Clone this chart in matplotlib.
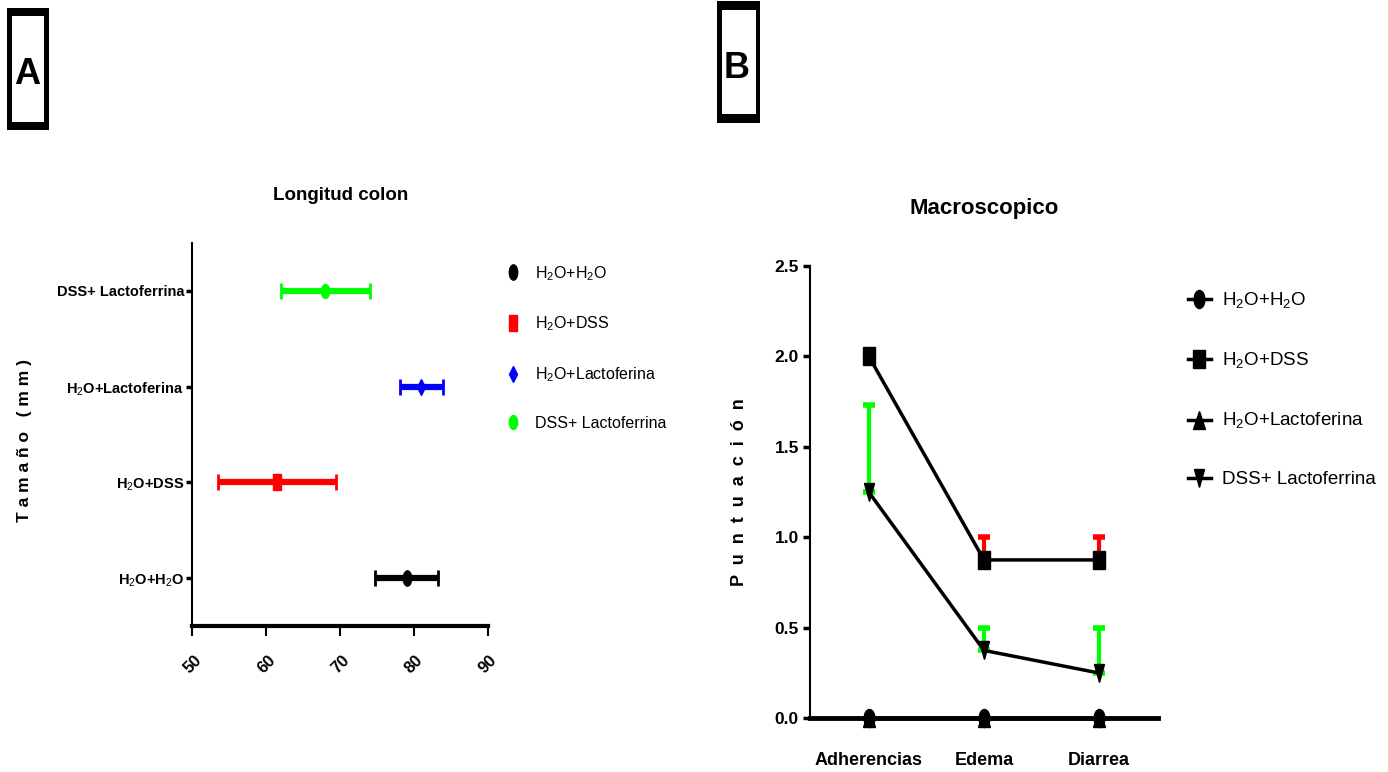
import numpy as np
import matplotlib
matplotlib.use("Agg")
import matplotlib.pyplot as plt
from matplotlib.markers import MarkerStyle
from matplotlib.transforms import Affine2D
from matplotlib.patches import Rectangle
from matplotlib.lines import Line2D

plt.rcParams['font.family'] = ['Liberation Sans', 'DejaVu Sans']
plt.rcParams['mathtext.fontset'] = 'custom'
plt.rcParams['mathtext.rm'] = 'Liberation Sans'
plt.rcParams['mathtext.bf'] = 'Liberation Sans:bold'

# ---- data, panel A (colon length, mm) ----
groups_a = ['H2O+H2O', 'H2O+DSS', 'H2O+Lactoferina', 'DSS+ Lactoferrina']
ticklabels_a = [r'H$_2$O+H$_2$O', r'H$_2$O+DSS', r'H$_2$O+Lactoferina', 'DSS+ Lactoferrina']
legend_a = [r'H$_2$O+H$_2$O', r'H$_2$O+DSS', r'H$_2$O+Lactoferina', 'DSS+ Lactoferrina']
mean_a = [79.0, 61.4, 81.0, 68.0]
err_a = [4.3, 8.0, 2.9, 6.0]
colors_a = ['black', '#ff0000', '#0000ff', '#00ff00']
xticks_a = [50, 60, 70, 80, 90]

# ---- data, panel B (macroscopic score) ----
cats_b = ['Adherencias', 'Edema', 'Diarrea']
series_b = ['H2O+H2O', 'H2O+DSS', 'H2O+Lactoferina', 'DSS+ Lactoferrina']
legend_b = [r'H$_2$O+H$_2$O', r'H$_2$O+DSS', r'H$_2$O+Lactoferina', 'DSS+ Lactoferrina']
vals_b = [[0, 0, 0],
          [2.0, 0.875, 0.875],
          [0, 0, 0],
          [1.25, 0.375, 0.25]]
err_b = [[0, 0, 0],
         [0, 0.125, 0.125],
         [0, 0, 0],
         [0.48, 0.125, 0.25]]
errcol_b = ['black', '#ff0000', 'black', '#00ff00']
yticks_b = [0.0, 0.5, 1.0, 1.5, 2.0, 2.5]

W, H = 1388, 772
fig = plt.figure(figsize=(W / 100, H / 100), dpi=100)


def fx(px):
    return px / W


def fy(py):
    return 1 - py / H


def squash(m, sx):
    return MarkerStyle(m, transform=Affine2D().scale(sx, 1))


# panel letters in boxes
def letter_box(x0, y0, x1, y1, ix0, iy0, ix1, iy1, letter, cx, cy):
    fig.add_artist(Rectangle((fx(x0), fy(y1)), fx(x1 - x0), (y1 - y0) / H,
                             transform=fig.transFigure, facecolor='black', edgecolor='none'))
    fig.add_artist(Rectangle((fx(ix0), fy(iy1)), fx(ix1 - ix0), (iy1 - iy0) / H,
                             transform=fig.transFigure, facecolor='white', edgecolor='none'))
    fig.text(fx(cx), fy(cy), letter, fontsize=26, fontweight='bold', ha='center', va='center')


letter_box(7, 8, 49, 130, 12, 16, 44, 122, 'A', 27, 75)
letter_box(717, 1, 760, 123, 722, 10, 756, 114, 'B', 737, 68)

# ---------------- panel A ----------------
axA = fig.add_axes([fx(192.4), fy(626), fx(488 - 192.4), (626 - 243) / H])
marks_a = [squash('o', 0.55), squash('s', 0.5), squash('D', 0.45), squash('o', 0.6)]
msize_a = [11, 11, 8, 10]
for i in range(len(groups_a)):
    axA.errorbar(mean_a[i], i, xerr=err_a[i], color=colors_a[i], marker=marks_a[i],
                 markersize=msize_a[i], elinewidth=4.5, capsize=6, capthick=2, ls='none')
axA.set_xlim(50, 90)
axA.set_ylim(-0.5, 3.5)
axA.set_yticks(range(len(groups_a)))
axA.set_yticklabels(ticklabels_a, fontsize=10.5, fontweight='bold')
axA.set_xticks(xticks_a)
axA.set_xticklabels([str(t) for t in xticks_a], rotation=45, fontsize=12, fontweight='bold',
                    ha='center', va='top')
axA.tick_params(axis='y', length=4, width=2.5, pad=2)
axA.tick_params(axis='x', length=7, width=1.5, pad=12)
for s in ['top', 'right']:
    axA.spines[s].set_visible(False)
axA.spines['left'].set_linewidth(1.5)
axA.spines['bottom'].set_linewidth(3)
axA.set_title('Longitud colon', fontsize=13.5, fontweight='bold', pad=31)
fig.text(fx(25), fy(440), 'T a m a ñ o   ( m m )', rotation=90, fontsize=12.5, fontweight='bold',
         ha='center', va='center')
handles_a = [Line2D([], [], ls='none', marker=marks_a[i], color=colors_a[i], markersize=msize_a[i])
             for i in range(len(groups_a))]
axA.legend(handles_a, legend_a, loc='upper left', bbox_to_anchor=(fx(505), fy(264)),
           bbox_transform=fig.transFigure, frameon=False, fontsize=11.5, labelspacing=2.0,
           handlelength=1.0, handletextpad=0.9, borderpad=0, borderaxespad=0)

# ---------------- panel B ----------------
axB = fig.add_axes([fx(810), fy(718.3), fx(1158 - 810), 452.5 / H])
marks_b = [squash('o', 0.6), squash('s', 0.65), squash('^', 0.65), squash('v', 0.6)]
msize_b = [13, 13, 13, 13]
xb = np.arange(len(cats_b))
for i in range(len(series_b)):
    lower = np.zeros(len(cats_b))
    if max(err_b[i]) > 0:
        axB.errorbar(xb, vals_b[i], yerr=[lower, err_b[i]], color=errcol_b[i], ls='none',
                     elinewidth=3, capsize=4, capthick=4, zorder=2)
    axB.plot(xb, vals_b[i], color='black', lw=2.5, marker=marks_b[i], markersize=msize_b[i],
             zorder=3, label=legend_b[i], clip_on=False)
axB.set_xlim(-0.51, 2.51)
axB.set_ylim(0, 2.5)
axB.set_xticks(xb)
axB.set_xticklabels(cats_b, fontsize=13, fontweight='bold')
axB.set_yticks(yticks_b)
axB.set_yticklabels(['%.1f' % t for t in yticks_b], fontsize=12.5, fontweight='bold')
axB.tick_params(axis='y', length=5, width=2.5, pad=3)
axB.tick_params(axis='x', length=5, width=2, pad=19)
for s in ['top', 'right']:
    axB.spines[s].set_visible(False)
axB.spines['left'].set_linewidth(1.5)
axB.spines['bottom'].set_linewidth(3.5)
axB.set_title('Macroscopico', fontsize=16, fontweight='bold', pad=37)
fig.text(fx(740), fy(492), 'P  u  n  t  u  a  c  i  ó  n', rotation=90, fontsize=13,
         fontweight='bold', ha='center', va='center')
axB.legend(loc='upper left', bbox_to_anchor=(fx(1188), fy(291)), bbox_transform=fig.transFigure,
           frameon=False, fontsize=13.5, labelspacing=2.12, handlelength=1.2, handletextpad=0.6,
           borderpad=0, borderaxespad=0)

fig.savefig('out.png', dpi=100)
